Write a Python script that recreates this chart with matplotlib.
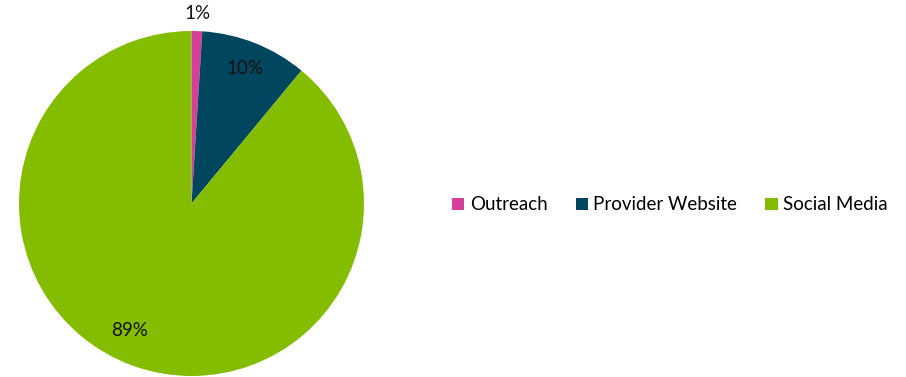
import matplotlib.pyplot as plt
import numpy as np

plt.rcParams['font.family'] = ['Lato', 'DejaVu Sans']

sources = ['Outreach', 'Provider Website', 'Social Media']
shares = [1, 10, 89]
colors = ['#D6409A', '#00465F', '#84BD00']

fig = plt.figure(figsize=(9.06, 3.77), dpi=100)
# pie axes: centre ~(191, 203) px, radius ~172 px
ax = fig.add_axes([19 / 906, 1 / 377, 345 / 906, 345 / 377])
wedges, _ = ax.pie(shares, colors=colors, startangle=90, counterclock=False,
                   radius=1, wedgeprops=dict(linewidth=0))
ax.set_xlim(-1, 1)
ax.set_ylim(-1, 1)
ax.set_aspect('equal')
ax.axis('off')

# percentage labels, placed along each wedge's mid angle
label_r = [1.10, 0.84, 0.82]
label_shift = [0, 0, -6]
for w, v, r, s in zip(wedges, shares, label_r, label_shift):
    ang = np.deg2rad((w.theta1 + w.theta2) / 2 + s)
    ax.text(r * np.cos(ang), r * np.sin(ang), f'{v}%', ha='center', va='center',
            fontsize=13.5, color='#111111', clip_on=False)

fig.legend(wedges, sources, loc='center left', bbox_to_anchor=(435 / 906, 1 - 205 / 377),
           ncol=3, frameon=False, fontsize=13.5, handlelength=0.65, handleheight=0.65,
           handletextpad=0.3, columnspacing=1.5)

fig.savefig('out.png', dpi=100)
